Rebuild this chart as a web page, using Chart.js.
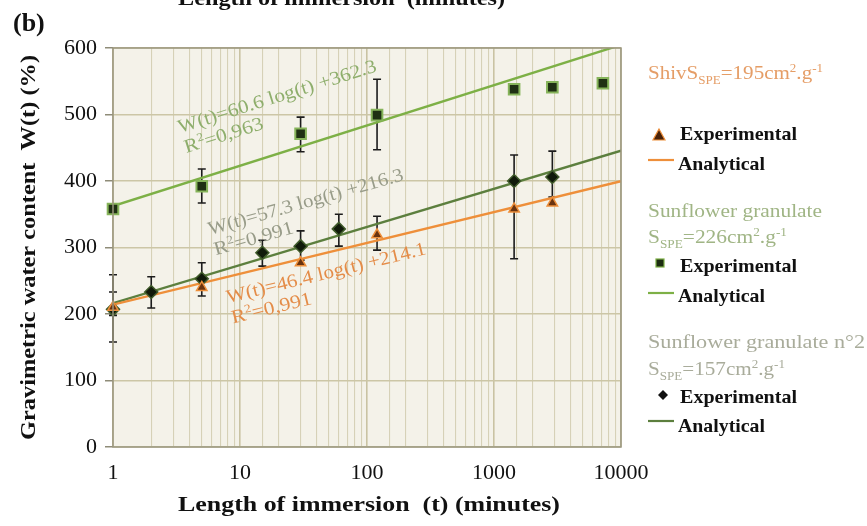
<!DOCTYPE html>
<html>
<head>
<meta charset="utf-8">
<script src="https://cdn.jsdelivr.net/npm/chart.js@4.4.0/dist/chart.umd.min.js"></script>
<style>
  html, body { margin: 0; padding: 0; background: #fff; }
  #wrap { width: 867px; height: 526px; position: relative; }
</style>
</head>
<body>
<div id="wrap"><canvas id="chart" width="867" height="526"></canvas></div>
<script>
// Shiv, S_SPE = 195
const timeShiv = [1, 5, 30, 120, 1440, 2880]
const wShiv = [210, 240, 277, 319, 358, 367]
const errShivLow = [198, null, null, 296, null, null]
const errShivHigh = [233, null, null, 347, null, null]

// Sunflower granulate, S_SPE = 226
const timeSun = [1, 5, 30, 120, 1440, 2880, 7200]
const wSun = [358, 392, 471, 499, 538, 541, 547]
const errSunLow = [null, 367, 444, 447, null, null, null]
const errSunHigh = [null, 418, 496, 553, null, null, null]

// Sunflower granulate n°2, S_SPE = 157
const timeSun2 = [1, 2, 5, 15, 30, 60, 1440, 2880]
const wSun2 = [207, 233, 253, 292, 302, 328, 400, 406]
const errSun2Low = [158, 209, 227, 272, 281, 302, 283, 376]
const errSun2High = [259, 256, 277, 311, 325, 350, 439, 445]

// analytical fits, end points at t = 1 and t = 10000
const fitTimes = [1, 10000]
const fitShiv = [214.1, 399.7]
const fitSun = [362.3, 604.7]
const fitSun2 = [216.3, 445.5]

const xTickLabels = ['1', '10', '100', '1000', '10000']

const ORANGE = '#EE8F3A'
const GREEN = '#7DB046'
const DARKGREEN = '#5C7F3E'
const SERIF = '"Liberation Serif", "DejaVu Serif", serif'

const pts = (xs, ys) => xs.map((x, i) => ({x: x, y: ys[i]}))

// draws text runs (normal / sub / sup), optionally stretched to a given width
function rich(ctx, parts, x, y, size, weight, width) {
  const fontFor = mode => `${weight || ''} ${mode ? size * 0.62 : size}px ${SERIF}`
  let total = 0
  parts.forEach(([t, mode]) => { ctx.font = fontFor(mode); total += ctx.measureText(t).width })
  const k = width ? width / total : 1
  ctx.save()
  ctx.translate(x, y)
  ctx.scale(k, 1)
  let cx = 0
  parts.forEach(([t, mode]) => {
    ctx.font = fontFor(mode)
    const dy = mode === 'sub' ? size * 0.28 : mode === 'sup' ? -size * 0.38 : 0
    ctx.fillText(t, cx, dy)
    cx += ctx.measureText(t).width
  })
  ctx.restore()
}

function rotText(ctx, lines, x, y, angle, color) {
  ctx.save()
  ctx.translate(x, y)
  ctx.rotate(angle * Math.PI / 180)
  ctx.fillStyle = color
  lines.forEach(([parts, w], i) => rich(ctx, parts, 0, i * 21, 19, '', w))
  ctx.restore()
}

const errorBars = [
  [timeShiv, errShivLow, errShivHigh],
  [timeSun, errSunLow, errSunHigh],
  [timeSun2, errSun2Low, errSun2High]
]

const decor = {
  id: 'decor',
  beforeDraw(chart) {
    const {ctx, chartArea: a} = chart
    ctx.save()
    ctx.fillStyle = '#F4F2E9'
    ctx.fillRect(a.left, a.top, a.right - a.left, a.bottom - a.top)
    ctx.restore()
  },
  beforeDatasetsDraw(chart) {
    const {ctx, scales: {x, y}} = chart
    ctx.save()
    ctx.strokeStyle = '#1c1c1c'
    ctx.lineWidth = 1.6
    errorBars.forEach(([ts, lo, hi]) => {
      ts.forEach((t, i) => {
        if (lo[i] == null) return
        const px = x.getPixelForValue(t)
        const y1 = y.getPixelForValue(lo[i])
        const y2 = y.getPixelForValue(hi[i])
        ctx.beginPath()
        ctx.moveTo(px, y1); ctx.lineTo(px, y2)
        ctx.moveTo(px - 4, y1); ctx.lineTo(px + 4, y1)
        ctx.moveTo(px - 4, y2); ctx.lineTo(px + 4, y2)
        ctx.stroke()
      })
    })
    ctx.restore()
  },
  afterDraw(chart) {
    const {ctx, chartArea: a} = chart
    ctx.save()
    // plot frame
    ctx.strokeStyle = '#9A977F'
    ctx.lineWidth = 1.5
    ctx.strokeRect(a.left, a.top, a.right - a.left, a.bottom - a.top)

    // fit equations
    rotText(ctx, [[[['W(t)=60.6 log(t) +362.3']], 207], [[['R'], ['2', 'sup'], ['=0,963']], 82]], 180, 133, -17.4, '#8EAE6C')
    rotText(ctx, [[[['W(t)=57.3 log(t) +216.3']], 202], [[['R'], ['2', 'sup'], ['=0,991']], 82]], 210, 235, -15.8, '#989C89')
    rotText(ctx, [[[['W(t)=46.4 log(t) +214.1']], 205], [[['R'], ['2', 'sup'], ['=0,991']], 82]], 228, 303, -13.8, '#E48C48')

    // titles
    ctx.fillStyle = '#111'
    ctx.textBaseline = 'alphabetic'
    ctx.font = `bold 26px ${SERIF}`
    ctx.fillText('(b)', 13, 31)
    rich(ctx, [['Length of immersion  (minutes)']], 178, 5, 20, 'bold', 327)
    rich(ctx, [['Length of immersion  (t) (minutes)']], 178, 511, 22, 'bold', 382)
    ctx.save()
    ctx.translate(35, 440)
    ctx.rotate(-Math.PI / 2)
    rich(ctx, [['Gravimetric water content  W(t) (%)']], 0, 0, 21, 'bold', 385)
    ctx.restore()

    // legend
    const L = 648
    ctx.fillStyle = '#E59D66'
    rich(ctx, [['ShivS'], ['SPE', 'sub'], ['=195cm'], ['2', 'sup'], ['.g'], ['-1', 'sup']], L, 79, 19, '', 175)
    ctx.fillStyle = '#A0B585'
    rich(ctx, [['Sunflower granulate']], L, 217, 19, '', 174)
    rich(ctx, [['S'], ['SPE', 'sub'], ['=226cm'], ['2', 'sup'], ['.g'], ['-1', 'sup']], L, 243, 19, '', 139)
    ctx.fillStyle = '#A9AC9B'
    rich(ctx, [['Sunflower granulate n°2']], L, 348, 19, '', 217)
    rich(ctx, [['S'], ['SPE', 'sub'], ['=157cm'], ['2', 'sup'], ['.g'], ['-1', 'sup']], L, 375, 19, '', 137)

    ctx.fillStyle = '#111'
    ;[140, 272, 403].forEach(yy => rich(ctx, [['Experimental']], 680, yy, 19, 'bold', 117))
    ;[170, 302, 432].forEach(yy => rich(ctx, [['Analytical']], 678, yy, 19, 'bold', 87))

    ctx.lineWidth = 2.2
    ;[[160, ORANGE], [293, GREEN], [421, DARKGREEN]].forEach(([yy, c]) => {
      ctx.strokeStyle = c
      ctx.beginPath(); ctx.moveTo(648, yy); ctx.lineTo(674, yy); ctx.stroke()
    })
    // legend markers
    ctx.fillStyle = '#4a2208'; ctx.strokeStyle = ORANGE; ctx.lineWidth = 1.2
    ctx.beginPath(); ctx.moveTo(659, 129); ctx.lineTo(665, 140); ctx.lineTo(653, 140); ctx.closePath(); ctx.fill(); ctx.stroke()
    ctx.fillStyle = '#1d2d12'; ctx.strokeStyle = GREEN
    ctx.fillRect(656, 259, 8, 8); ctx.strokeRect(656, 259, 8, 8)
    ctx.fillStyle = '#111'
    ctx.beginPath(); ctx.moveTo(663, 390); ctx.lineTo(668, 395); ctx.lineTo(663, 400); ctx.lineTo(658, 395); ctx.closePath(); ctx.fill()
    ctx.restore()
  }
}

new Chart(document.getElementById('chart'), {
  type: 'scatter',
  data: {
    datasets: [
      {
        label: 'Shiv experimental',
        data: pts(timeShiv, wShiv),
        pointStyle: 'triangle',
        pointRadius: 6,
        backgroundColor: '#6a3410',
        borderColor: ORANGE,
        borderWidth: 1.5,
        clip: false
      },
      {
        label: 'Sunflower experimental',
        data: pts(timeSun, wSun),
        pointStyle: 'rect',
        pointRadius: 7.5,
        backgroundColor: '#1f3013',
        borderColor: '#86B45A',
        borderWidth: 2,
        clip: false
      },
      {
        label: 'Sunflower n°2 experimental',
        data: pts(timeSun2, wSun2),
        pointStyle: 'rectRot',
        pointRadius: 6.5,
        backgroundColor: '#101a0a',
        borderColor: '#3f5a2a',
        borderWidth: 1.5,
        clip: false
      },
      {
        type: 'line',
        label: 'Shiv analytical',
        data: pts(fitTimes, fitShiv),
        borderColor: ORANGE,
        borderWidth: 2.4,
        pointRadius: 0
      },
      {
        type: 'line',
        label: 'Sunflower analytical',
        data: pts(fitTimes, fitSun),
        borderColor: GREEN,
        borderWidth: 2.4,
        pointRadius: 0
      },
      {
        type: 'line',
        label: 'Sunflower n°2 analytical',
        data: pts(fitTimes, fitSun2),
        borderColor: DARKGREEN,
        borderWidth: 2.4,
        pointRadius: 0
      }
    ]
  },
  options: {
    responsive: false,
    animation: false,
    events: [],
    layout: {padding: {left: 0, right: 246, top: 48, bottom: 0}},
    plugins: {
      legend: {display: false},
      tooltip: {enabled: false}
    },
    scales: {
      x: {
        type: 'logarithmic',
        min: 1,
        max: 10000,
        afterFit: s => { s.height = 79 },
        grid: {
          color: c => (c.tick && xTickLabels.includes(String(c.tick.value))) ? '#C9C3A3' : '#D6D1B7',
          lineWidth: c => (c.tick && xTickLabels.includes(String(c.tick.value))) ? 1.6 : 1.1,
          drawTicks: false
        },
        border: {display: false},
        ticks: {
          autoSkip: false,
          maxRotation: 0,
          padding: 13,
          color: '#111',
          font: {family: SERIF, size: 22},
          callback: v => xTickLabels.includes(String(v)) ? String(v) : ''
        }
      },
      y: {
        min: 0,
        max: 600,
        afterFit: s => { s.width = 113 },
        grid: {
          color: '#CCC6A6',
          lineWidth: 1.5,
          tickLength: 8,
          tickColor: '#8f8c78'
        },
        border: {display: false},
        ticks: {
          stepSize: 100,
          padding: 8,
          color: '#111',
          font: {family: SERIF, size: 22}
        }
      }
    }
  },
  plugins: [decor]
})
</script>
</body>
</html>
